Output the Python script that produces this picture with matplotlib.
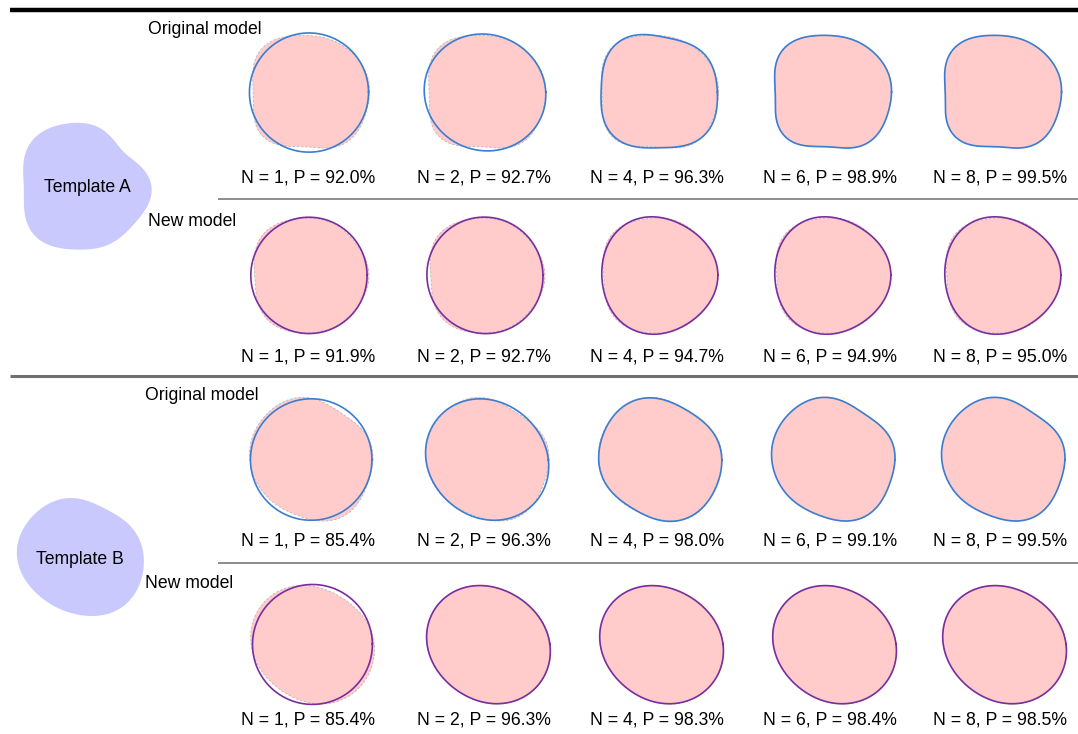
import matplotlib.pyplot as plt
import numpy as np

plt.rcParams["font.family"] = ["Liberation Sans", "DejaVu Sans"]

# number of harmonics per column and the precision reached by each model
harmonics = [1, 2, 4, 6, 8]
p_a_original = [92.0, 92.7, 96.3, 98.9, 99.5]
p_a_new = [91.9, 92.7, 94.7, 94.9, 95.0]
p_b_original = [85.4, 96.3, 98.0, 99.1, 99.5]
p_b_new = [85.4, 96.3, 98.3, 98.4, 98.5]

# contour radii (px) sampled every 22.5 deg, counter-clockwise from +x
template_a_radii = [63, 57, 50, 55, 64, 65, 72, 68, 63, 68, 72, 67, 64, 62, 60, 64]
template_b_radii = [64, 61, 56, 55, 58, 61, 63, 63, 63, 60, 55, 57, 57, 63, 66, 65]
target_a_original = [57, 60, 55, 57, 56, 60, 66, 62, 58, 62, 65, 59, 55, 60, 61, 60]
target_a_new = [58, 56, 55, 56, 57, 59, 63, 60, 57, 58, 63, 60, 58, 57, 56, 57]
target_b_original = [61, 62, 56, 57, 62, 64, 64, 63, 61, 59, 57, 56, 60, 64, 64, 62]
target_b_new = [63, 60, 56, 56, 58, 61, 63, 62, 60, 57, 55, 56, 59, 63, 65, 65]

col_x = [311, 487, 660, 833, 1003]
row_y = [92, 275, 460, 644]
label_y = [178, 357, 541, 720]

PINK = "#ffcbcb"
BLUE = "#3b7dd0"
PURPLE = "#7a2d9e"
LAVENDER = "#c9c9fd"
FS = 12.7

THETA = np.linspace(0, 2 * np.pi, 500)
MAX_TERMS = 5
TEMPLATE_TERMS = 5


def fourier_radius(samples, n_terms):
    coeffs = np.fft.rfft(np.asarray(samples, dtype=float)) / len(samples)
    r = np.full_like(THETA, coeffs[0].real)
    for k in range(1, n_terms + 1):
        r += 2 * (coeffs[k].real * np.cos(k * THETA) - coeffs[k].imag * np.sin(k * THETA))
    return r


def to_xy(cx, cy, r):
    return cx + r * np.cos(THETA), cy - r * np.sin(THETA)


fig = plt.figure(figsize=(10.78, 7.34), dpi=100)
ax = fig.add_axes([0, 0, 1, 1])
ax.set_xlim(0, 1078)
ax.set_ylim(734, 0)
ax.axis("off")

# separators
ax.plot([10, 1078], [10, 10], color="black", lw=3.2, solid_capstyle="butt")
ax.plot([218, 1078], [199, 199], color="#6e6e6e", lw=1.1, solid_capstyle="butt")
ax.plot([10, 1078], [376, 376], color="#707070", lw=2.2, solid_capstyle="butt")
ax.plot([218, 1078], [563, 563], color="#6e6e6e", lw=1.1, solid_capstyle="butt")

# template blobs
for radii, (cx, cy), name in [(template_a_radii, (87, 186), "Template A"),
                               (template_b_radii, (80, 557), "Template B")]:
    xs, ys = to_xy(cx, cy, fourier_radius(radii, TEMPLATE_TERMS))
    ax.fill(xs, ys, color=LAVENDER, lw=0)
    ax.text(cx, cy + 2, name, ha="center", va="center", fontsize=FS)

rows = [
    ("Original model", target_a_original, p_a_original, BLUE, None, (148, 30)),
    ("New model", target_a_new, p_a_new, PURPLE, 3, (148, 221)),
    ("Original model", target_b_original, p_b_original, BLUE, None, (145, 395)),
    ("New model", target_b_new, p_b_new, PURPLE, 3, (145, 584)),
]

for i, (title, target, precision, color, cap, (tx, ty)) in enumerate(rows):
    ax.text(tx, ty, title, ha="left", va="center", fontsize=FS)
    shape = fourier_radius(target, MAX_TERMS)
    for j, n in enumerate(harmonics):
        terms = min(n, MAX_TERMS) if cap is None else min(n, cap)
        fit = fourier_radius(target, terms)
        cx, cy = col_x[j], row_y[i]
        xs, ys = to_xy(cx, cy, shape)
        ax.fill(xs, ys, color=PINK, lw=0, zorder=1)
        ax.plot(xs, ys, color="#b9b9b9", lw=0.6, ls=(0, (3, 2)), zorder=2)
        ox, oy = to_xy(cx, cy, fit)
        ax.plot(ox, oy, color=color, lw=1.2, zorder=3)
        ax.text(cx - 3, label_y[i], f"N = {n}, P = {precision[j]:.1f}%",
                ha="center", va="center", fontsize=FS)

fig.savefig("out.png", dpi=100)
